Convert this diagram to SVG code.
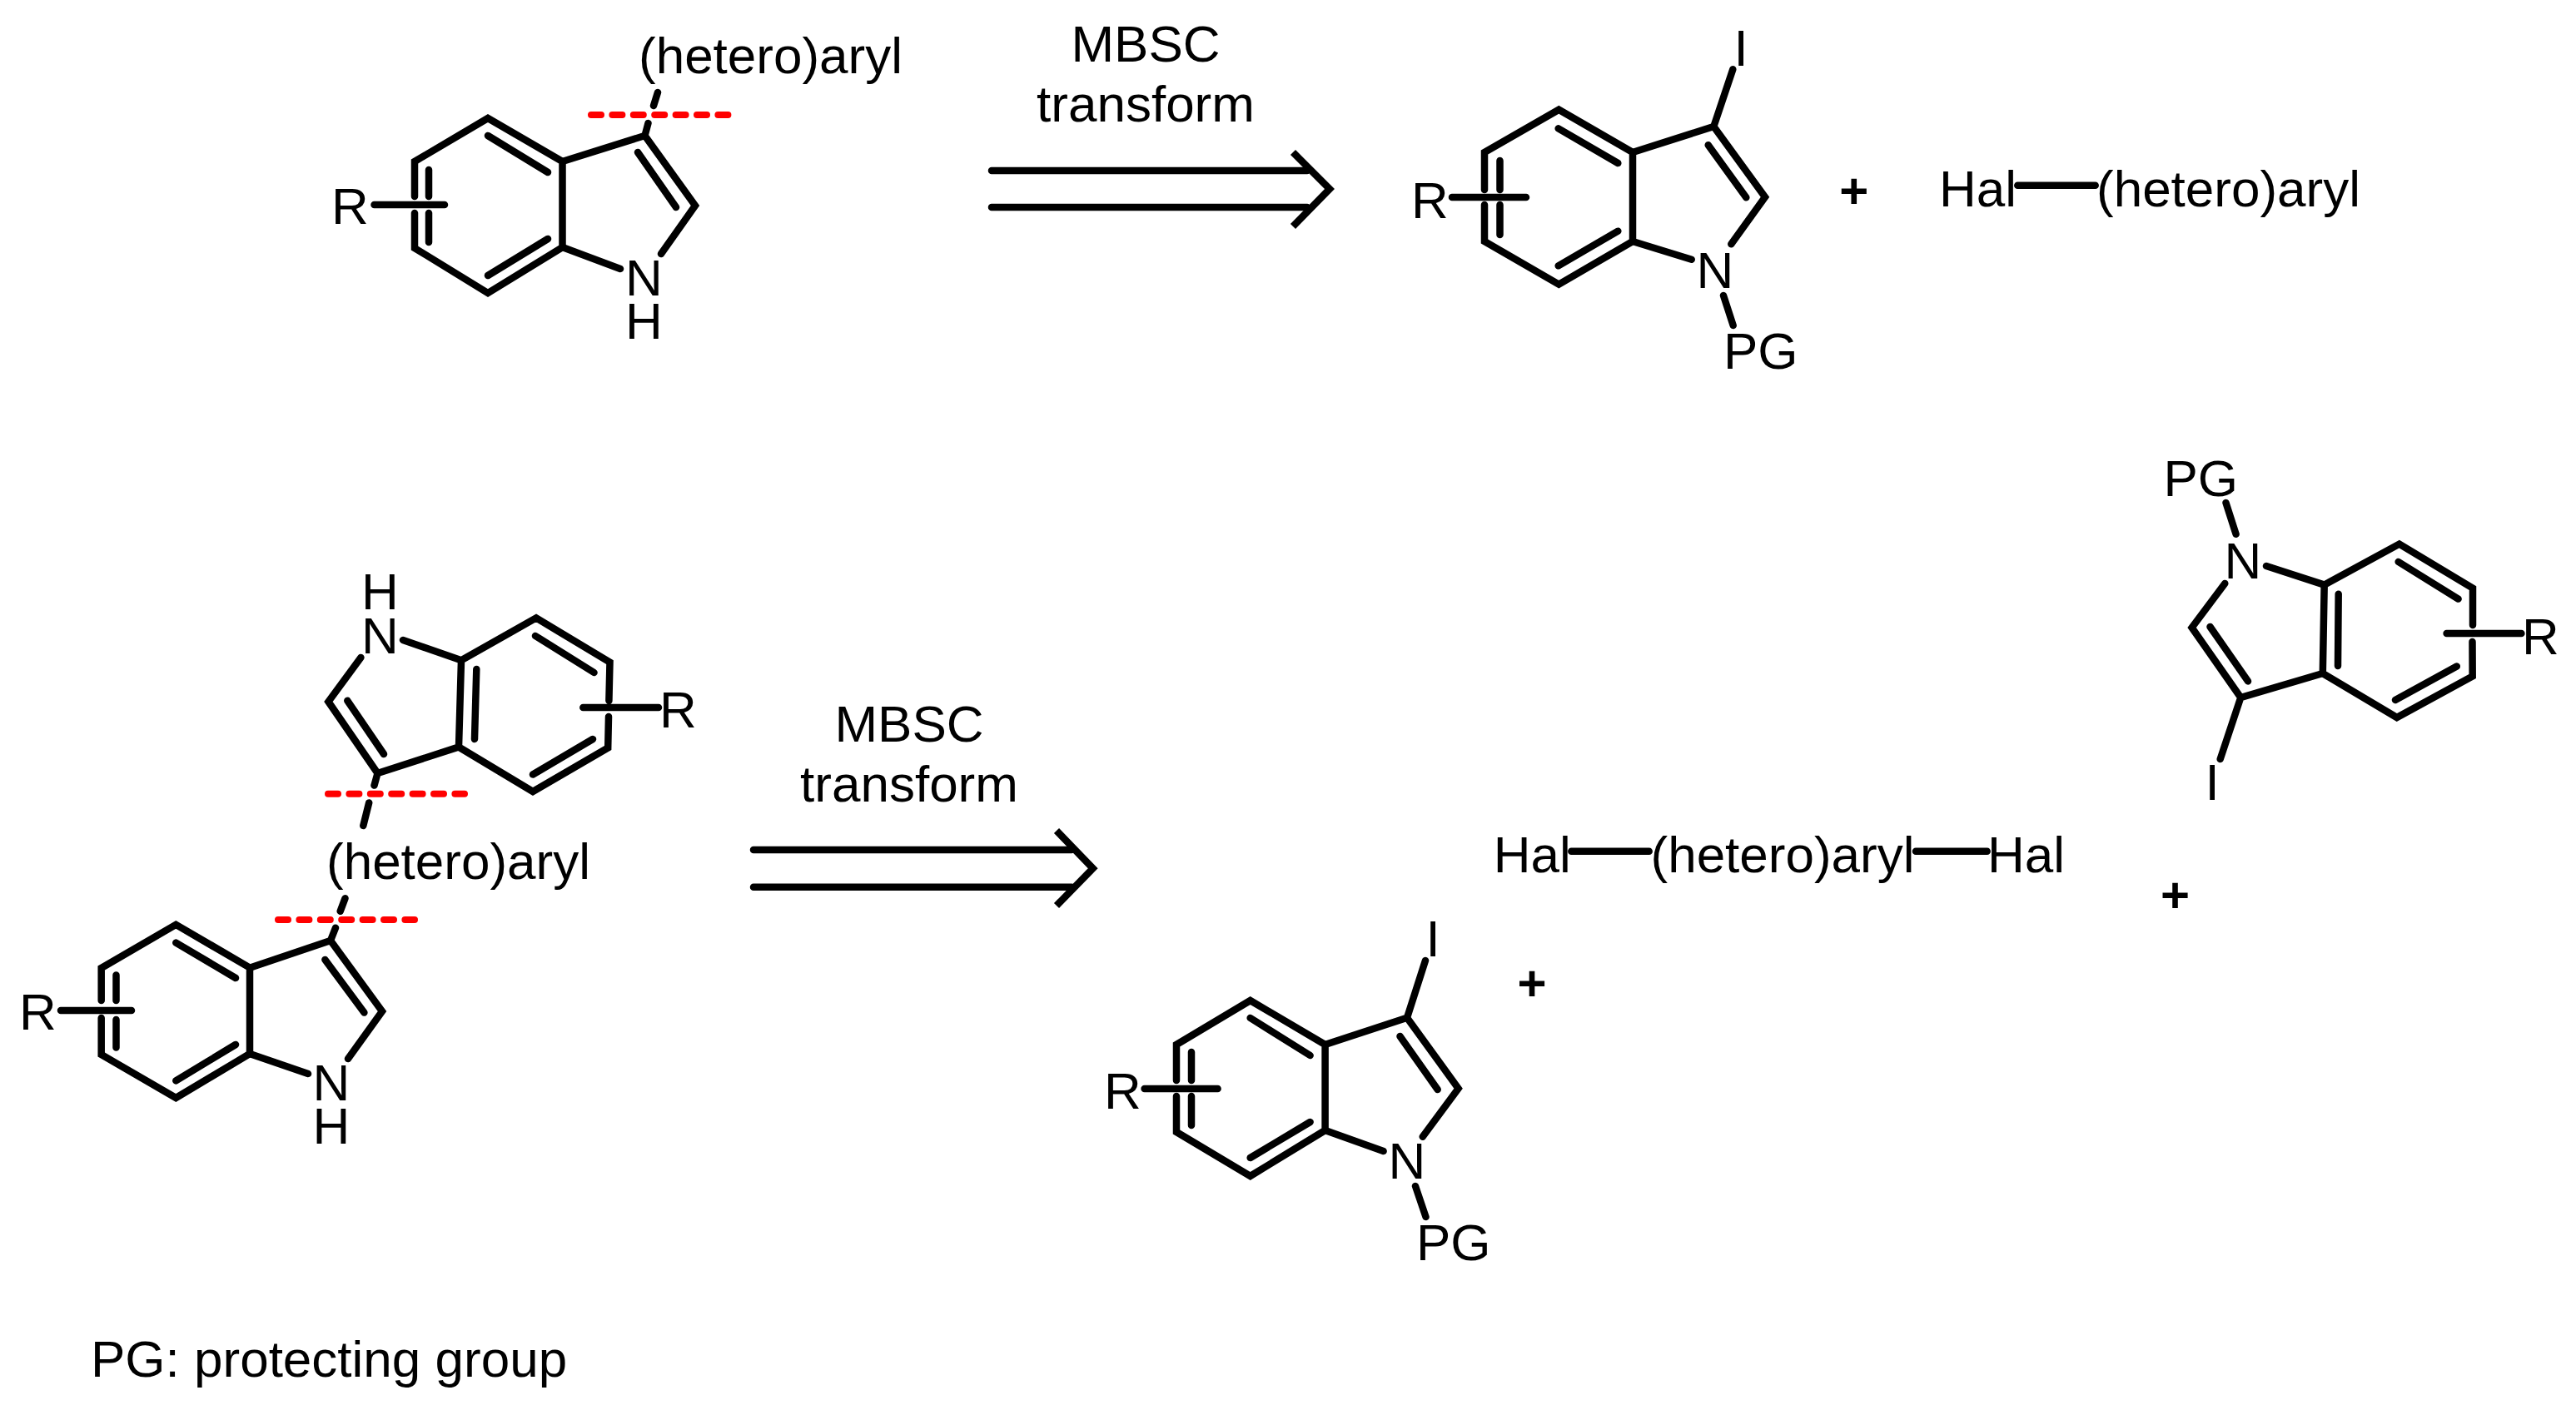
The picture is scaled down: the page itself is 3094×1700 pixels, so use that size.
<svg xmlns="http://www.w3.org/2000/svg" width="3094" height="1700" viewBox="0 0 3094 1700">
<style>
text{font-family:"Liberation Sans",Arial,sans-serif;font-size:62px;fill:#000}
.m{text-anchor:middle}
.p{font-weight:bold;text-anchor:middle;font-size:60px}
.b{fill:none;stroke:#000;stroke-width:8.5;stroke-linecap:round;stroke-linejoin:miter;stroke-miterlimit:10}
.h{fill:none;stroke:#000;stroke-width:8.5;stroke-linecap:butt;stroke-linejoin:miter;stroke-miterlimit:10}
.r{stroke:#f00;stroke-width:8;stroke-linecap:round;stroke-dasharray:12 13.4;fill:none}
</style>
<rect width="3094" height="1700" fill="#fff"/>
<g id="connectors">
<path class="b" d="M1191 205H1570M1191 249H1570"/>
<path class="h" d="M1553 183L1597 227L1553 272"/>
<path class="b" d="M905 1021H1287M905 1065.7H1287"/>
<path class="h" d="M1269 998L1312.7 1043.3L1269 1088"/>
</g>
<g id="label-top"><text class="m" x="1376" y="74">MBSC</text><text class="m" x="1376" y="146">transform</text></g>
<g id="label-bottom"><text class="m" x="1092" y="890.7">MBSC</text><text class="m" x="1092" y="963.3">transform</text></g>
<g id="indole-a">
<path class="b" d="M498 236V194L586 142L675.5 194V297L586 352L498 298V256"/>
<path class="b" d="M675.5 194L774.5 163L835 247L794 305M675.5 297L745 323M586 163L658 207M586 331L658 287M515 204V236M515 256V291M766 183L812 249M449.5 246H534M774.5 163L778.5 148M785 127L790 111"/>
<path class="r" d="M710 138H876"/>
<text x="398" y="269">R</text><text class="m" x="773.5" y="355">N</text><text class="m" x="773.5" y="407">H</text><text x="767" y="88">(hetero)aryl</text>
</g>
<g id="indole-b">
<path class="b" d="M1783 228V183L1872.3 131.7L1961 183V290L1872.3 341.7L1783 290V246"/>
<path class="b" d="M1961 183L2058.3 152L2120 236.7L2079.3 293.3M1961 290L2031.7 311.7M1871.7 154.3L1943.3 196M1871.7 319.3L1943.3 277.7M1801.5 193V228M1801.5 246V282M2051.7 174.3L2097.3 237.3M1744 237H1833M2058.3 152L2081.3 83.3M2070 355L2081.7 391"/>
<text x="1695" y="262">R</text><text class="m" x="2091" y="78.7">I</text><text class="m" x="2060" y="345.7">N</text><text x="2070" y="443.3">PG</text>
</g>
<g id="plus-top"><text class="p" x="2226.7" y="250">+</text></g>
<g id="hal-aryl">
<path class="b" d="M2423.3 222.7H2516.7"/>
<text x="2329" y="247.7">Hal</text><text x="2518" y="247.7">(hetero)aryl</text>
</g>
<g id="bis-indole">
<path class="b" d="M433.4 790L394.4 843L453.5 929L551 897.5L640 951L730.2 898.5L731 861M731.4 841.8L732.5 795.7L644 742.4L554 793.3L551 897.5M554 793.3L484 769M572.3 804L570 888M643 764L713.5 808M640 930.5L712 888M417.3 841.8L461 906M700.3 850H791M453.5 929L449.5 943.6M443.2 964.4L436.3 992"/>
<path class="b" d="M121.7 1202V1163L211.3 1110.8L300 1162.7V1266L211.3 1319L121.7 1267V1223"/>
<path class="b" d="M300 1162.7L397 1130L459 1215L418 1272M300 1266L370 1290M211.3 1132.6L283 1175M211.3 1298.4L283 1255M139.5 1171.4V1202M139.5 1225V1258.6M390.4 1153L437.4 1216.5M73 1214H158M397 1130L403 1114.7M408.7 1094.8L414.5 1079.3"/>
<path class="r" d="M394 953.7H558"/>
<path class="r" d="M334 1105H498"/>
<text class="m" x="456.5" y="731.7">H</text><text class="m" x="456.5" y="784.6">N</text><text x="792" y="873.8">R</text><text x="392" y="1056">(hetero)aryl</text><text x="23" y="1237">R</text><text class="m" x="398" y="1321.7">N</text><text class="m" x="398" y="1374">H</text>
</g>
<g id="indole-d">
<path class="b" d="M1413 1298V1255L1501.7 1202L1591.6 1255V1358L1501.7 1413L1413 1360V1317"/>
<path class="b" d="M1591.6 1255L1690 1222.7L1751.6 1307.7L1708.7 1365.7M1591.6 1358L1661.6 1383M1501.7 1223L1573.6 1268M1501.7 1391L1573.6 1348M1431 1264V1298M1431 1317V1352M1681.5 1245L1726.7 1309M1374.6 1308H1462.6M1690 1222.7L1712 1154M1700 1425L1712.5 1462"/>
<text x="1326" y="1332">R</text><text class="m" x="1721" y="1149">I</text><text class="m" x="1690" y="1416">N</text><text x="1701" y="1514.3">PG</text>
</g>
<g id="plus-d"><text class="p" x="1840" y="1202">+</text></g>
<g id="hal-aryl-hal">
<path class="b" d="M1887.3 1022.7H1980.7M2301 1022.7H2386.7"/>
<text x="1793.7" y="1047.7">Hal</text><text x="1982.5" y="1047.7">(hetero)aryl</text><text x="2387" y="1047.7">Hal</text>
</g>
<g id="indole-e">
<path class="b" d="M2970 751V706.6L2881.8 653.6L2791.7 702.6L2789.8 809L2878.8 862L2969.7 812.5L2969.5 771"/>
<path class="b" d="M2791.7 702.6L2722 680M2789.8 809L2691.3 838L2632.6 754L2672.3 701M2808.7 713.7L2808 800M2880.7 675L2952.6 719.6M2877 841L2950.8 800.6M2654.5 753L2700 818.4M2938.6 761H3028.4M2691.3 838L2666.7 912M2673.5 604L2685.6 641.7"/>
<text x="2598.5" y="596.3">PG</text><text class="m" x="2694" y="695">N</text><text x="3029" y="785.6">R</text><text class="m" x="2657" y="960.7">I</text>
</g>
<g id="plus-e"><text class="p" x="2612.5" y="1096">+</text></g>
<g id="legend"><text x="109" y="1654.3">PG: protecting group</text></g>
</svg>
